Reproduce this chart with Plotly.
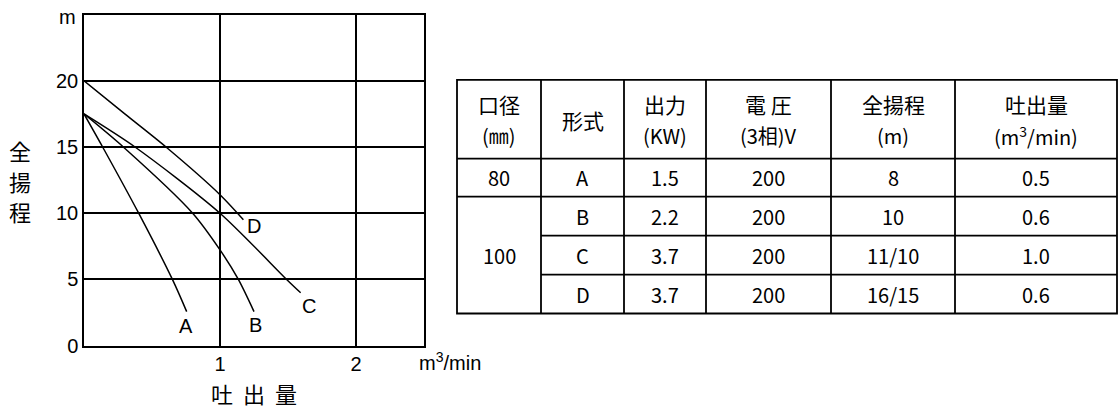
import plotly.graph_objects as go

# pump curves (discharge m3/min, total head m)
curve_names = ["A", "B", "C", "D"]
curve_x = [
    [0, 0.137, 0.402, 0.650, 0.755],
    [0, 0.289, 0.799, 1.0, 1.135, 1.25],
    [0, 0.375, 1.0, 1.49, 1.593],
    [0, 0.30, 0.603, 1.0, 1.172],
]
curve_y = [
    [17.5, 15, 10, 5, 2.57],
    [17.5, 15, 10, 7.23, 5, 2.57],
    [17.5, 15, 10, 5, 3.99],
    [20, 17.5, 15, 11.4, 9.51],
]
label_x = [0.75, 1.262, 1.657, 1.25]
label_y = [1.47, 1.54, 3.0, 9.02]

x_ticks = [1, 2]
y_ticks = [0, 5, 10, 15, 20]
y_title = ["全", "揚", "程"]
x_title = ["吐", "出", "量"]

# spec table
head_top = ["口径", "形式", "出力", "電 圧", "全揚程", "吐出量"]
head_bottom = ["(㎜)", "", "(KW)", "(3相)V", "(m)", "(m<sup>3</sup>/min)"]
bore = ["80", "100"]
bore_rows = [1, 3]
model = ["A", "B", "C", "D"]
power = ["1.5", "2.2", "3.7", "3.7"]
voltage = ["200", "200", "200", "200"]
head = ["8", "10", "11/10", "16/15"]
flow = ["0.5", "0.6", "1.0", "0.6"]

W, H = 1120, 416


def px(x):
    return x / W


def py(y):
    return 1 - y / H


fig = go.Figure()
for name, xs, ys in zip(curve_names, curve_x, curve_y):
    fig.add_trace(go.Scatter(
        x=xs, y=ys, mode="lines", name=name,
        line=dict(color="black", width=1.5, shape="spline", smoothing=0.8),
        hoverinfo="skip",
    ))

cfont = dict(family="Liberation Sans, Arial, sans-serif", size=20, color="black")
jfont = dict(family="Noto Sans CJK JP, sans-serif", size=22, color="black")
tfont = dict(family="Noto Sans CJK JP, sans-serif", size=20, color="black")
hfont = dict(tfont, size=21)


def note(x, y, text, font, ref="paper"):
    return dict(x=x, y=y, xref=ref if ref == "paper" else "x",
                yref=ref if ref == "paper" else "y", text=text, showarrow=False,
                xanchor="center", yanchor="middle", font=font)


annotations = []
for name, lx, ly in zip(curve_names, label_x, label_y):
    annotations.append(note(lx, ly, name, cfont, ref="data"))

# axis captions
annotations.append(note(px(67), py(17), "m", cfont))
annotations.append(note(px(450), py(371), "m<sup>3</sup>/min", cfont))
for ch, yy in zip(y_title, [154, 186, 217]):
    annotations.append(note(px(20), py(yy), ch, jfont))
for ch, xx in zip(x_title, [222, 254, 286]):
    annotations.append(note(px(xx), py(404), ch, jfont))

# table geometry (pixels)
col_x = [457, 541, 624, 706, 831, 955, 1117]
row_y = [82, 163, 202, 242, 282, 322]

shapes = []
lw = 1.8
shapes.append(dict(type="rect", xref="paper", yref="paper",
                   x0=px(col_x[0]), x1=px(col_x[-1]), y0=py(row_y[0]), y1=py(row_y[-1]),
                   line=dict(color="black", width=lw)))
for cx in col_x[1:-1]:
    shapes.append(dict(type="line", xref="paper", yref="paper",
                       x0=px(cx), x1=px(cx), y0=py(row_y[0]), y1=py(row_y[-1]),
                       line=dict(color="black", width=lw)))
for i, ry in enumerate(row_y[1:-1]):
    # rows under the merged 100 cell start at the second column
    x0 = col_x[0] if i < 2 else col_x[1]
    shapes.append(dict(type="line", xref="paper", yref="paper",
                       x0=px(x0), x1=px(col_x[-1]), y0=py(ry), y1=py(ry),
                       line=dict(color="black", width=lw)))

hy = (row_y[0] + row_y[1]) / 2
for j in range(len(head_top)):
    cx = (col_x[j] + col_x[j + 1]) / 2
    if head_bottom[j]:
        annotations.append(note(px(cx), py(hy - 16), head_top[j], hfont))
        annotations.append(note(px(cx), py(hy + 17), head_bottom[j], tfont))
    else:
        annotations.append(note(px(cx), py(hy + 1), head_top[j], hfont))

r = 1
for val, n in zip(bore, bore_rows):
    cy = (row_y[r] + row_y[r + n]) / 2
    annotations.append(note(px((col_x[0] + col_x[1]) / 2), py(cy), val, tfont))
    r += n

for i, row in enumerate(zip(model, power, voltage, head, flow)):
    cy = (row_y[i + 1] + row_y[i + 2]) / 2
    for j, val in enumerate(row):
        cx = (col_x[j + 1] + col_x[j + 2]) / 2
        annotations.append(note(px(cx), py(cy), val, tfont))

fig.update_layout(
    width=W, height=H,
    margin=dict(l=0, r=0, t=0, b=0),
    paper_bgcolor="white", plot_bgcolor="white",
    showlegend=False,
    font=cfont,
    xaxis=dict(domain=[px(84), px(424)], range=[0, 2.5], tickvals=x_ticks,
               showgrid=True, gridcolor="black", gridwidth=1.5, zeroline=False,
               showline=True, linecolor="black", linewidth=1.5, mirror=True,
               ticks="", tickfont=cfont, fixedrange=True),
    yaxis=dict(domain=[py(355), py(15)], range=[0, 25], tickvals=y_ticks,
               showgrid=True, gridcolor="black", gridwidth=1.5, zeroline=False,
               showline=True, linecolor="black", linewidth=1.5, mirror=True,
               ticks="", tickfont=cfont, fixedrange=True),
    shapes=shapes,
    annotations=annotations,
)

# make the page exactly the size of the figure
page_css = (
    "var s = document.documentElement.style; s.margin = '0'; s.overflow = 'hidden';"
    "var b = document.body.style; b.margin = '0'; b.overflow = 'hidden';"
    "b.height = '416px'; b.width = '1120px';"
)
fig.write_html("out.html", post_script=page_css, config={"displayModeBar": False})
